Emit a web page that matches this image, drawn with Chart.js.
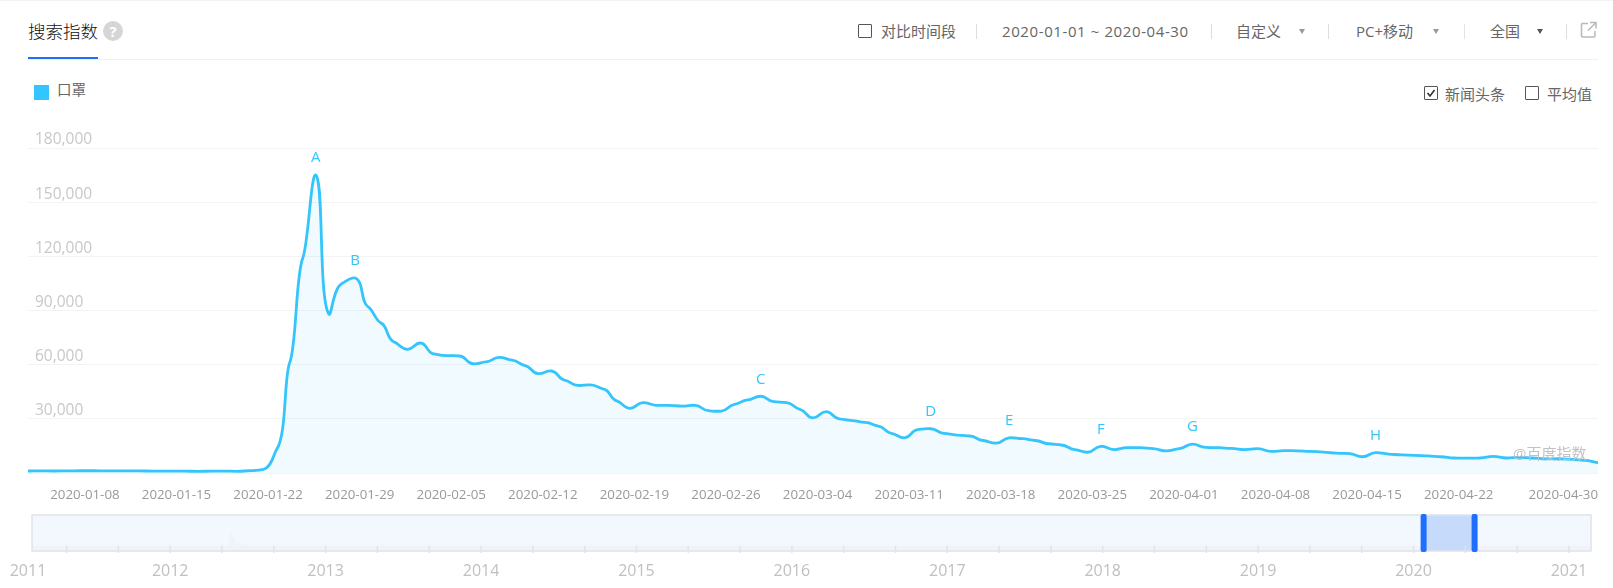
<!DOCTYPE html>
<html lang="zh">
<head>
<meta charset="utf-8">
<title>搜索指数</title>
<script src="https://cdn.jsdelivr.net/npm/chart.js@4"></script>
<style>
  html, body { margin: 0; padding: 0; background: #fff; }
  body { width: 1613px; height: 588px; position: relative; overflow: hidden;
    font-family: "Open Sans", "Noto Sans CJK SC", sans-serif; color: #666; font-size: 15px; }
  .abs { position: absolute; white-space: nowrap; line-height: 20px; }
  .line { position: absolute; }
  .sep { position: absolute; top: 24px; width: 1px; height: 15px; background: #dedede; }
  .box { position: absolute; box-sizing: border-box; width: 14px; height: 14px; border: 1px solid #555; border-radius: 1px; }
  .arrow { position: absolute; top: 29px; width: 0; height: 0; border-left: 3px solid transparent; border-right: 3px solid transparent; border-top: 5px solid #999; }
  canvas { position: absolute; left: 0; }
  #mainChart { top: 100px; }
  #rangeChart { top: 501px; }
</style>
</head>
<body>
  <div class="line" style="left:0;top:0;width:1613px;height:1px;background:#f2f2f2"></div>
  <div class="abs" style="left:28px;top:21px;font-size:17.5px;font-weight:300;color:#111">搜索指数</div>
  <div class="abs" style="left:103px;top:21px;width:20px;height:20px;border-radius:50%;background:#d6d6d6;color:#fff;font-size:15px;font-weight:700;text-align:center;line-height:20px">?</div>
  <div class="line" style="left:28px;top:59px;width:1570px;height:1px;background:#f0f0f0"></div>
  <div class="line" style="left:28px;top:57px;width:70px;height:2px;background:#1f6fff"></div>

  <div class="box" style="left:858px;top:24px"></div>
  <div class="abs" style="left:881px;top:21px">对比时间段</div>
  <div class="sep" style="left:976px"></div>
  <div class="abs" style="left:1002px;top:21px;letter-spacing:0.6px">2020-01-01 ~ 2020-04-30</div>
  <div class="sep" style="left:1211px"></div>
  <div class="abs" style="left:1236px;top:21px">自定义</div>
  <div class="arrow" style="left:1299px"></div>
  <div class="sep" style="left:1328px"></div>
  <div class="abs" style="left:1356px;top:21px">PC+移动</div>
  <div class="arrow" style="left:1433px"></div>
  <div class="sep" style="left:1464px;background:#dfe8d8"></div>
  <div class="abs" style="left:1490px;top:21px">全国</div>
  <div class="arrow" style="left:1537px;border-top-color:#555"></div>
  <div class="sep" style="left:1566px"></div>
  <svg style="position:absolute;left:1580px;top:21px" width="18" height="18" fill="none" stroke="#b9b9b9" stroke-width="1.5">
    <path d="M8 2.5H2.5a1 1 0 0 0-1 1V15a1 1 0 0 0 1 1H14a1 1 0 0 0 1-1V10M10 1.5h6v6M16 1.5L8 9.5"/>
  </svg>

  <div class="line" style="left:34px;top:85px;width:15px;height:15px;background:#33c5ff"></div>
  <div class="abs" style="left:57px;top:80px;font-size:14.5px">口罩</div>
  <div class="box" style="left:1424px;top:86px"></div>
  <svg style="position:absolute;left:1424px;top:86px" width="14" height="14" fill="none" stroke="#333" stroke-width="1.6">
    <path d="M3.5 7l2.5 3 4.5-6"/>
  </svg>
  <div class="abs" style="left:1445px;top:84px">新闻头条</div>
  <div class="box" style="left:1525px;top:86px"></div>
  <div class="abs" style="left:1547px;top:84px">平均值</div>

  <canvas id="mainChart" width="1613" height="403" style="width:1613px;height:403px"></canvas>
  <canvas id="rangeChart" width="1613" height="87" style="width:1613px;height:87px"></canvas>
  <div class="abs" style="left:1513px;top:443px;color:#c2c2c2">@百度指数</div>

<script>
// DATA
const startDate = "2020-01-01";
const dailyIndex = [
  1100, 1150, 1100, 1200, 1250, 1250, 1200, 1200, 1150, 1100, 1050, 1050, 1000, 950, 1000, 1050,
  950, 1300, 2000, 13000, 61000, 119000, 165000, 88000, 105000, 108000, 92000, 83000, 72500, 68500,
  72000, 66000, 65000, 64800, 60500, 61500, 64000, 62500, 59500, 55000, 56500, 51500, 48500, 48800,
  46500, 40000, 35800, 39000, 37500, 37500, 37000, 37500, 34500, 34300, 38000, 40500, 42500, 39500,
  39000, 35300, 30500, 34000, 30000, 29000, 28000, 26000, 22000, 19500, 24000, 24500, 22000, 21000,
  20500, 18000, 16500, 19500, 19000, 18000, 16200, 15500, 13000, 11500, 14800, 13000, 14000, 14000,
  13500, 12200, 13500, 16000, 14200, 14000, 13600, 13000, 13500, 12000, 12400, 12300, 12000, 11600,
  11000, 10700, 9000, 11300, 10500, 10000, 9800, 9500, 9000, 8300, 8200, 8300, 9200, 8300, 8700,
  8400, 7800, 7900, 7500, 7000, 5800
];
const dateTicks = ["2020-01-08", "2020-01-15", "2020-01-22", "2020-01-29", "2020-02-05", "2020-02-12",
  "2020-02-19", "2020-02-26", "2020-03-04", "2020-03-11", "2020-03-18", "2020-03-25", "2020-04-01",
  "2020-04-08", "2020-04-15", "2020-04-22", "2020-04-30"];
const yTicks = [0, 30000, 60000, 90000, 120000, 150000, 180000];
const newsLetters = ["A", "B", "C", "D", "E", "F", "G", "H"];
const newsDates = ["2020-01-23", "2020-01-26", "2020-02-26", "2020-03-10", "2020-03-16", "2020-03-23", "2020-03-30", "2020-04-13"];

// overview strip below the chart
const overviewYears = [2011.111, 2012.38, 2012.39, 2012.42, 2012.5, 2021.142];
const overviewValues = [5, 5, 18, 8, 5, 5];
const yearLabels = [2012, 2013, 2014, 2015, 2016, 2017, 2018, 2019, 2020, 2021];
const selectedRange = [2020.065, 2020.393];

const labels = dailyIndex.map((v, i) => {
  const d = new Date(startDate + "T00:00:00Z");
  d.setUTCDate(d.getUTCDate() + i);
  return d.toISOString().slice(0, 10);
});

// the original curve flattens at each daily point, so pull the bezier handles towards level
const flatHandles = {
  id: "flatHandles",
  afterDatasetsUpdate(chart) {
    const line = chart.getDatasetMeta(0).dataset;
    line.updateControlPoints(chart.chartArea, "x");
    line.points.forEach(p => {
      p.cp1y = p.y + (p.cp1y - p.y) * 0.35;
      p.cp2y = p.y + (p.cp2y - p.y) * 0.35;
    });
  }
};

// letters over the line, placed from the scales
const newsLabels = {
  id: "newsLabels",
  afterDatasetsDraw(chart) {
    const { ctx, scales } = chart;
    ctx.save();
    ctx.fillStyle = "#33c5fb";
    ctx.font = '15px "Open Sans"';
    ctx.textAlign = "center";
    ctx.textBaseline = "middle";
    newsLetters.forEach((letter, i) => {
      const idx = labels.indexOf(newsDates[i]);
      ctx.fillText(letter, scales.x.getPixelForValue(idx), scales.y.getPixelForValue(dailyIndex[idx]) - 17);
    });
    ctx.restore();
  }
};

new Chart(document.getElementById("mainChart"), {
  type: "line",
  data: {
    labels: labels,
    datasets: [{
      label: "口罩",
      data: dailyIndex,
      borderColor: "#33c5fb",
      borderWidth: 2.8,
      backgroundColor: "rgba(51,197,251,0.07)",
      fill: "origin",
      tension: 0.5,
      pointRadius: 0
    }]
  },
  options: {
    responsive: false,
    animation: false,
    layout: { padding: { left: 28, right: 15, top: 48, bottom: 0 } },
    plugins: { legend: { display: false }, tooltip: { enabled: false } },
    scales: {
      x: {
        offset: false,
        grid: { display: false },
        border: { display: false },
        afterFit(scale) { scale.height = 30; scale.paddingLeft = 0; scale.paddingRight = 0; },
        ticks: {
          autoSkip: false,
          maxRotation: 0,
          align: "end",
          padding: 6,
          color: "#999",
          font: { size: 13.3, family: '"Open Sans"' },
          callback(value) {
            const d = this.getLabelForValue(value);
            return dateTicks.includes(d) ? d : "";
          }
        }
      },
      y: {
        min: 0,
        max: 180000,
        afterBuildTicks(scale) { scale.ticks = yTicks.map(v => ({ value: v })); },
        afterFit(scale) { scale.width = 0; scale.paddingTop = 0; scale.paddingBottom = 0; },
        grid: { color: "#f3f3f3", drawTicks: false },
        border: { display: false },
        ticks: {
          mirror: true,
          padding: 7,
          labelOffset: -8,
          color: "#c8c8c8",
          font: { size: 15.5, family: '"Open Sans"' },
          callback: v => (v === 0 ? "" : v.toLocaleString("en-US"))
        }
      }
    }
  },
  plugins: [flatHandles, newsLabels]
});

// frame, selection and tick marks of the overview strip
const rangeDecor = {
  id: "rangeDecor",
  beforeDatasetsDraw(chart) {
    const { ctx, scales, chartArea } = chart;
    const left = scales.x.getPixelForValue(overviewYears[0]);
    const right = scales.x.getPixelForValue(overviewYears[overviewYears.length - 1]);
    ctx.save();
    ctx.fillStyle = "#f3f8fe";
    ctx.fillRect(left, chartArea.top, right - left, chartArea.bottom - chartArea.top);
    ctx.restore();
  },
  afterDatasetsDraw(chart) {
    const { ctx, scales, chartArea } = chart;
    const left = scales.x.getPixelForValue(overviewYears[0]);
    const right = scales.x.getPixelForValue(overviewYears[overviewYears.length - 1]);
    const a = scales.x.getPixelForValue(selectedRange[0]);
    const b = scales.x.getPixelForValue(selectedRange[1]);
    ctx.save();
    ctx.fillStyle = "#c6dafb";
    ctx.fillRect(a, chartArea.top, b - a, chartArea.bottom - chartArea.top);
    ctx.strokeStyle = "#e0e3e8";
    ctx.lineWidth = 1.5;
    ctx.strokeRect(left, chartArea.top, right - left, chartArea.bottom - chartArea.top);
    scales.x.ticks.forEach(t => {
      if (t.value <= overviewYears[0]) return;
      const x = scales.x.getPixelForValue(t.value);
      ctx.beginPath();
      ctx.moveTo(x, chartArea.bottom - 5);
      ctx.lineTo(x, chartArea.bottom + 2);
      ctx.stroke();
    });
    ctx.fillStyle = "#1f6fff";
    [a, b].forEach(x => {
      ctx.beginPath();
      ctx.roundRect(x - 3, chartArea.top - 1, 6, chartArea.bottom - chartArea.top + 2, 2);
      ctx.fill();
    });
    ctx.restore();
  }
};

// tick every 4 months, the first one carries the 2011 label
const rangeTicks = [{ value: 2011.085 }];
for (let t = 2011 + 1 / 3; t < 2021.14; t += 1 / 3) {
  rangeTicks.push({ value: Math.round(t * 1000) / 1000 });
}

new Chart(document.getElementById("rangeChart"), {
  type: "line",
  data: {
    datasets: [{
      data: overviewYears.map((y, i) => ({ x: y, y: overviewValues[i] })),
      borderColor: "#f0f3f8",
      borderWidth: 1,
      backgroundColor: "#f0f3f8",
      fill: "origin",
      pointRadius: 0
    }]
  },
  options: {
    responsive: false,
    animation: false,
    layout: { padding: { left: 28, right: 22, top: 14, bottom: 0 } },
    plugins: { legend: { display: false }, tooltip: { enabled: false } },
    scales: {
      x: {
        type: "linear",
        min: 2011.085,
        max: 2021.142,
        grid: { display: false },
        border: { display: false },
        afterBuildTicks(scale) { scale.ticks = rangeTicks; },
        afterFit(scale) { scale.height = 37; scale.paddingLeft = 0; scale.paddingRight = 0; },
        ticks: {
          autoSkip: false,
          maxRotation: 0,
          padding: 3,
          color: "#c0c0c0",
          font: { size: 16, family: '"Open Sans"' },
          callback(v) {
            if (v < 2012) return v < 2011.1 ? "2011" : "";
            return yearLabels.includes(v) ? String(v) : "";
          }
        }
      },
      y: { display: false, min: 0, max: 36 }
    }
  },
  plugins: [rangeDecor]
});
</script>
</body>
</html>
